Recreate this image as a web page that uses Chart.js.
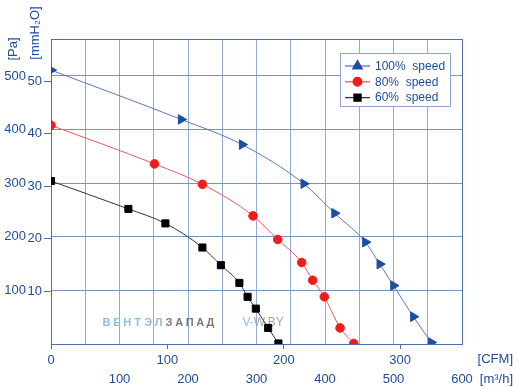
<!DOCTYPE html>
<html><head><meta charset="utf-8">
<script src="https://cdn.jsdelivr.net/npm/chart.js@4/dist/chart.umd.min.js"></script>
<style>html,body{margin:0;padding:0;background:#fff}</style>
</head><body>
<canvas id="c" width="518" height="387"></canvas>
<script>
// ---- data (airflow in m³/h, static pressure in Pa) ----
const seriesLabels = ['100%  speed', '80%  speed', '60%  speed'];
const flow100 = [0, 190, 279, 369, 414, 459, 480, 500, 529, 555];
const press100 = [511, 419, 372, 299, 244, 190, 149, 109, 51, 3];
const flow80 = [0, 151, 221, 295, 331, 366, 382, 399, 422, 442];
const press80 = [408, 336, 298, 239, 195, 152, 119, 88, 30, 1];
const flow60 = [0, 113, 167, 221, 248, 275, 287, 299, 317, 332];
const press60 = [304, 252, 225, 180, 147, 114, 88, 66, 30, 1];
const paTicks = [100, 200, 300, 400, 500];
const mmTicks = [10, 20, 30, 40, 50];
const cfmTicks = [0, 100, 200, 300];
const m3hTicks = [100, 200, 300, 400, 500, 600];

const M3H_PER_CFM = 1.699;
const PA_PER_MM = 9.80665;
const FLOW_MAX = 600, PA_MAX = 569;

const BLUE_TXT = '#1d4c9c';
const AXIS = '#4d6ea7';
const GRID_V = '#93acd5';
const GRID_H = '#7593c6';
const FONT = "'Liberation Sans', Arial, sans-serif";

function pts(xs, ys) { return xs.map((x, i) => ({ x: x, y: ys[i] })); }

const watermark = {
  id: 'watermark',
  beforeDatasetsDraw(chart) {
    const ctx = chart.ctx;
    ctx.save();
    ctx.textBaseline = 'middle';
    ctx.textAlign = 'center';
    ctx.font = 'bold 11px ' + FONT;
    const word = 'ВЕНТЭЛЗАПАД';
    for (let i = 0; i < word.length; i++) {
      ctx.fillStyle = i < 6 ? '#8cbde6' : '#7a7a7a';
      ctx.fillText(word[i], 106.5 + i * 10.4, 323);
    }
    ctx.textAlign = 'left';
    ctx.font = '12px ' + FONT;
    ctx.fillStyle = '#8cbde6';
    ctx.fillText('V-', 242.5, 323);
    const w = ctx.measureText('V-').width;
    ctx.fillStyle = '#a4a4a4';
    ctx.fillText('W.BY', 242.5 + w, 323);
    ctx.restore();
  }
};

const frame = {
  id: 'frame',
  afterDatasetsDraw(chart) {
    const a = chart.chartArea, ctx = chart.ctx;
    ctx.save();
    ctx.strokeStyle = AXIS; ctx.lineWidth = 1;
    ctx.beginPath();
    ctx.moveTo(Math.round(a.left) + 0.5, Math.round(a.top) + 0.5);
    ctx.lineTo(Math.round(a.right) + 0.5, Math.round(a.top) + 0.5);
    ctx.lineTo(Math.round(a.right) + 0.5, Math.round(a.bottom) + 0.5);
    ctx.stroke();
    ctx.restore();
  }
};

const titles = {
  id: 'titles',
  afterDraw(chart) {
    const ctx = chart.ctx;
    ctx.save();
    ctx.fillStyle = BLUE_TXT;
    ctx.font = '13px ' + FONT;
    ctx.textBaseline = 'middle';
    ctx.save(); ctx.translate(13, 49); ctx.rotate(-Math.PI / 2);
    ctx.textAlign = 'center'; ctx.fillText('[Pa]', 0, 0); ctx.restore();
    ctx.save(); ctx.translate(35, 33); ctx.rotate(-Math.PI / 2);
    ctx.textAlign = 'center'; ctx.fillText('[mmH₂O]', 0, 0); ctx.restore();
    ctx.textAlign = 'right';
    ctx.fillText('[CFM]', 513, 359.5);
    ctx.fillText('[m³/h]', 513, 379);
    ctx.restore();
  }
};

const boxLegend = {
  id: 'boxLegend',
  afterDraw(chart) {
    const ctx = chart.ctx;
    ctx.save();
    ctx.fillStyle = '#ffffff';
    ctx.strokeStyle = '#8ea3d0';
    ctx.lineWidth = 1;
    ctx.fillRect(340.5, 53.5, 110, 53);
    ctx.strokeRect(340.5, 53.5, 110, 53);
    chart.data.datasets.forEach((ds, i) => {
      const y = 66 + i * 15.8;
      ctx.strokeStyle = ds.borderColor; ctx.lineWidth = 1.3;
      ctx.beginPath(); ctx.moveTo(345, y); ctx.lineTo(370, y); ctx.stroke();
      ctx.fillStyle = ds.pointBackgroundColor; ctx.strokeStyle = ds.pointBorderColor;
      Chart.helpers.drawPoint(ctx, { pointStyle: ds.pointStyle, radius: ds.pointRadius, rotation: 0, borderWidth: 1 }, 357.5, y);
      ctx.fillStyle = BLUE_TXT;
      ctx.font = '12px ' + FONT;
      ctx.textBaseline = 'middle'; ctx.textAlign = 'left';
      ctx.fillText(ds.label, 375, y + 0.5);
    });
    ctx.restore();
  }
};

new Chart(document.getElementById('c'), {
  type: 'line',
  data: {
    datasets: [
      { label: seriesLabels[0], data: pts(flow100, press100), borderColor: '#5479bd', borderWidth: 1,
        pointStyle: 'triangle', pointRotation: 90, pointRadius: 5.5, pointBackgroundColor: '#1c4ea2', pointBorderColor: '#1c4ea2',
        cubicInterpolationMode: 'monotone', xAxisID: 'x', yAxisID: 'yPa' },
      { label: seriesLabels[1], data: pts(flow80, press80), borderColor: '#f05a5a', borderWidth: 1,
        pointStyle: 'circle', pointRadius: 4.3, pointBackgroundColor: '#f01c1c', pointBorderColor: '#f01c1c',
        cubicInterpolationMode: 'monotone', xAxisID: 'x', yAxisID: 'yPa' },
      { label: seriesLabels[2], data: pts(flow60, press60), borderColor: '#333333', borderWidth: 1,
        pointStyle: 'rect', pointRadius: 5, pointBackgroundColor: '#000000', pointBorderColor: '#000000',
        cubicInterpolationMode: 'monotone', xAxisID: 'x', yAxisID: 'yPa' }
    ]
  },
  options: {
    responsive: false,
    animation: false,
    devicePixelRatio: 1,
    layout: { padding: { top: 39, right: 56, left: 0, bottom: 0 } },
    plugins: { legend: { display: false }, tooltip: { enabled: false } },
    scales: {
      xCfm: {
        type: 'linear', position: 'bottom', weight: 0,
        min: 0, max: FLOW_MAX / M3H_PER_CFM,
        afterBuildTicks: s => { s.ticks = cfmTicks.map(v => ({ value: v })); },
        ticks: { color: BLUE_TXT, font: { family: FONT, size: 13 }, padding: 4, maxRotation: 0, autoSkip: false },
        grid: { drawOnChartArea: false, drawTicks: true, tickLength: 5, color: AXIS },
        border: { display: true, color: AXIS },
        afterFit: s => { s.height = 23; }
      },
      x: {
        type: 'linear', position: 'bottom', weight: 1,
        min: 0, max: FLOW_MAX,
        ticks: { stepSize: 50, color: BLUE_TXT, font: { family: FONT, size: 13 }, padding: 5, maxRotation: 0, autoSkip: false,
          callback: v => (m3hTicks.includes(v) ? String(v) : '') },
        grid: { color: GRID_V, drawTicks: false },
        border: { display: false },
        afterFit: s => { s.height = 20; }
      },
      yMm: {
        type: 'linear', position: 'left', weight: 0,
        min: 0, max: PA_MAX / PA_PER_MM,
        afterBuildTicks: s => { s.ticks = mmTicks.map(v => ({ value: v })); },
        ticks: { color: BLUE_TXT, font: { family: FONT, size: 13 }, padding: 2 },
        grid: { drawOnChartArea: false, drawTicks: true, tickLength: 7, color: AXIS },
        border: { display: true, color: AXIS },
        afterFit: s => { s.width = 24; }
      },
      yPa: {
        type: 'linear', position: 'left', weight: 1,
        min: 0, max: PA_MAX,
        afterBuildTicks: s => { s.ticks = paTicks.map(v => ({ value: v })); },
        ticks: { color: BLUE_TXT, font: { family: FONT, size: 13 }, padding: 1 },
        grid: { color: GRID_H, drawTicks: false },
        border: { display: false },
        afterFit: s => { s.width = 27; }
      }
    }
  },
  plugins: [watermark, frame, titles, boxLegend]
});
</script>
</body></html>
